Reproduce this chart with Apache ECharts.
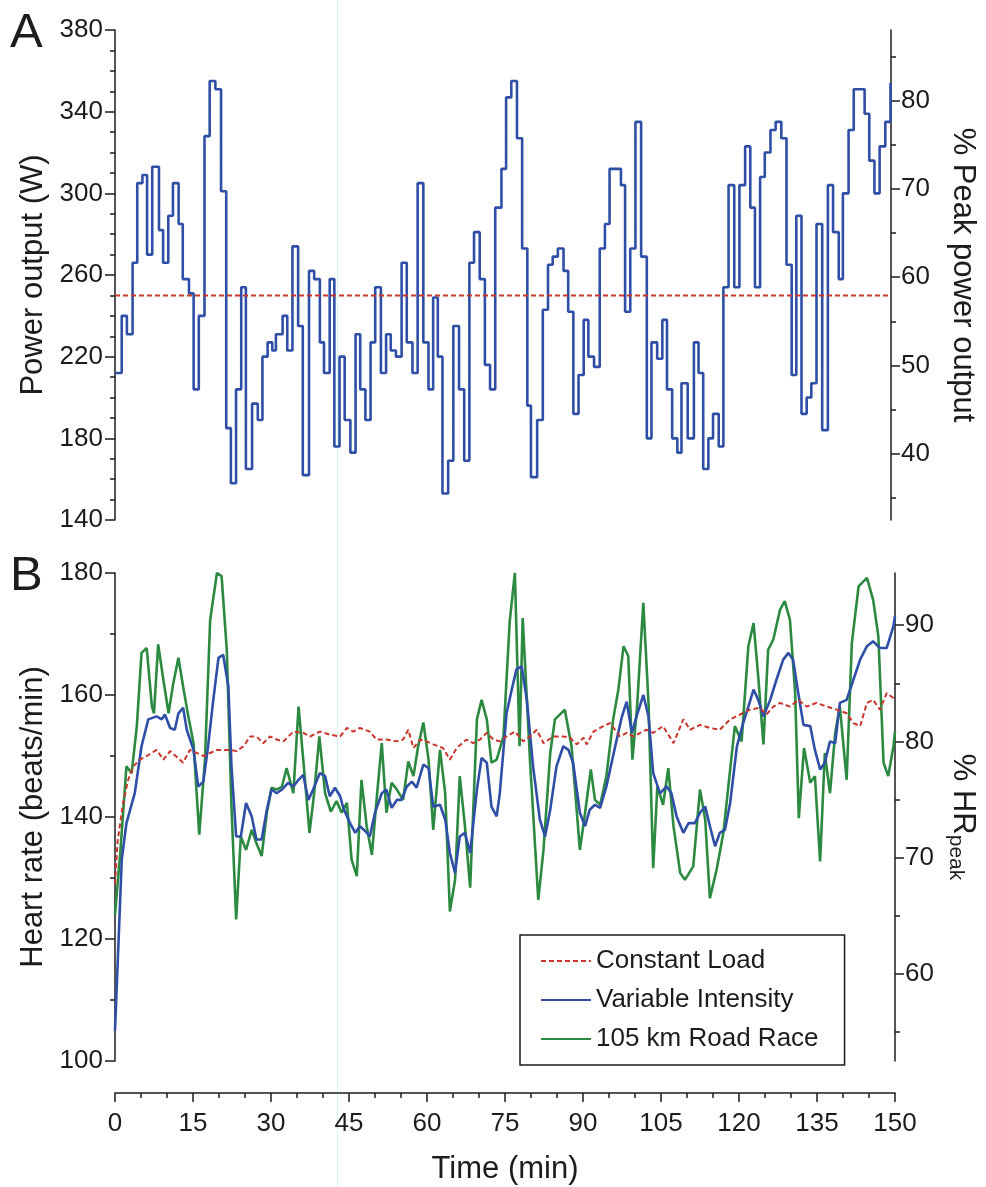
<!DOCTYPE html>
<html><head><meta charset="utf-8">
<script src="https://cdn.jsdelivr.net/npm/echarts@6/dist/echarts.min.js"></script>
<style>html,body{margin:0;padding:0;background:#fff}#c{width:986px;height:1187px}</style>
</head><body><div id="c"></div>
<script>
// ---------- Panel A: power output (step series) ----------
const powerTime = [0,1.3,2.3,3.4,4.3,5.3,6.2,7.2,8.5,9.3,10.3,11.2,12.3,13.1,14.3,15.2,16.2,17.3,18.3,19.4,20.5,21.5,22.4,23.4,24.4,25.3,26.5,27.6,28.5,29.5,30.4,31.1,32.4,33.3,34.3,35.4,36.3,37.5,38.5,39.6,40.4,41.5,42.4,43.4,44.4,45.5,46.5,47.4,48.4,49.4,50.3,51.4,52.4,53.3,54.3,55.4,56.4,57.5,58.5,59.6,60.6,61.5,62.4,63.3,64.4,65.4,66.5,67.5,68.5,69.4,70.5,71.5,72.5,73.5,74.7,75.6,76.6,77.7,78.7,79.7,80.4,81.6,82.7,83.7,84.6,85.6,86.7,87.6,88.6,89.6,90.6,91.5,92.6,93.7,94.7,95.6,97.8,98.6,99.6,100.6,101.7,102.8,103.7,104.8,105.8,106.7,107.7,108.7,109.5,110.7,111.9,112.8,113.7,114.7,115.6,116.7,117.6,118.6,119.7,120.7,121.8,122.8,123.7,124.7,125.6,126.7,127.7,128.8,129.8,130.8,131.7,132.7,133.7,134.6,135.6,136.7,137.8,138.8,139.9,140.7,141.8,142.8,144.9,145.8,146.8,147.8,148.9,149.9,150];
const powerWatts = [212,240,231,266,305,309,270,313,282,266,289,305,285,258,251,204,240,328,355,351,301,185,158,204,254,165,197,189,220,227,223,231,240,223,274,235,162,262,258,227,212,258,176,220,189,173,231,204,189,227,254,212,231,223,220,266,227,212,305,227,204,249,220,153,169,235,204,169,266,281,258,216,204,293,312,347,355,327,273,196,161,189,243,265,269,273,262,242,192,211,238,220,215,273,285,312,304,242,273,335,269,180,227,219,238,204,180,173,207,180,227,212,165,180,192,176,254,304,254,304,323,293,254,308,320,331,335,327,265,211,289,192,200,207,285,184,304,281,258,300,331,351,339,316,300,323,335,354,354];
const constantPowerTime = [0,150];
const constantPowerWatts = [250,250];
const peakPower = 431.5;   // W, 100 % of the right-hand axis in panel A

// ---------- Panel B: heart rate ----------
const clTime = [0,0.5,1.5,2.5,3.5,4.8,6.1,8,9.3,10.6,13.1,14.4,17,19.6,22.1,23.4,24.7,26,27.2,28.5,29.8,31.1,32.4,34.3,36.2,37.5,39.4,41.3,43.3,44.6,45.8,47.1,49,50.3,52.2,54.2,55.4,56.4,57.4,58.7,59.9,61.2,63.1,64.4,65.7,67.6,68.9,70.2,71.5,72.8,74,75.3,76.9,78.5,79.8,81.1,82.4,84.3,86.2,87.5,88.8,90.1,90.7,92,93.9,95.2,97.1,98.4,99.7,101,102.2,103.5,105.4,107.4,109.3,110.6,112.5,114.4,116.3,118.3,120.2,122.1,124,125.3,126.6,127.9,129.8,131.4,133,134.9,136.9,138.8,140.7,142,143.3,144.6,145.8,147.1,148.4,149.7,150];
const clHR = [129,136,142,146,148.3,149.4,150,151,149.4,150.8,148.9,151,150,151,151,150.8,151.6,153.2,153.2,152.1,153.2,152.7,152.4,154,153.8,153.2,154,153.5,153.2,154.6,154,154.6,154,152.7,152.7,152.4,152.7,154.3,151.3,152.7,152.4,151.9,151.3,149.4,151.3,152.7,152.1,152.7,153.8,152.7,152.4,153.2,154,152.4,153.2,154.3,152.1,153.2,153.2,153,151.9,153,151.9,154,154.9,155.4,153.2,153.8,153.2,153.8,154.3,153.8,154.9,152.1,156,154.3,155.1,154.6,154.3,156,156.8,157.6,157.9,156.8,158.1,158.7,158.1,159.2,158.1,158.7,158.1,157.6,157,155.4,154.9,158.7,159.2,157.6,160.3,159.5,159.5];

const viTime = [0,1.3,2.2,3.8,5.1,6.4,8,9,9.6,10.6,11.5,12.2,13.1,13.8,15.1,16,17,17.9,18.9,19.9,20.8,21.8,22.4,23.3,24.2,25.2,26.3,27.2,28.2,29.2,30.1,31.1,32.1,33.3,34.3,35.3,36.2,37.2,38.1,39.4,40.4,41.3,42.3,43.3,43.9,45.2,46.2,47.1,48.1,49,50,51.3,52.2,53.2,54.2,55.1,56.1,57.1,58,59.3,60.3,61.2,62.5,63.5,64.4,65.4,66.3,67.3,68.3,69.6,70.5,71.5,72.4,73.4,74,75.3,76.3,77.2,78.2,79.2,80.4,81.7,82.7,83.7,84.9,86.2,87.2,88.1,89.4,90.4,91.3,92.3,93.3,94.5,96.2,97.4,98.4,99.4,100.3,101.6,102.6,103.5,104.8,106.1,107,108,109.3,110.3,111.5,112.5,113.5,114.4,115.4,116.3,117.3,118.3,119.6,120.8,121.8,122.8,123.7,124.7,126,127.2,128.5,129.5,130.4,131.4,132.4,133.7,134.6,135.6,136.5,137.5,138.5,139.4,140.7,142,143.3,144.6,145.8,147.1,148.4,149.7,150];
const viHR = [105,133,139,143.9,151.6,156,156.5,156,156.8,154.6,154.3,157,157.9,154.3,151,145,145.8,151.6,159.2,166.1,166.6,161.4,148.3,136.8,136.8,142.3,140.1,136.3,136.3,141.2,144.5,143.9,144.5,145.6,145,146.1,146.9,142.8,144.5,147.2,146.7,143.4,144.8,143.4,141.5,139,137.4,138.5,137.7,136.8,140.7,143.9,144.5,141.5,142.8,142.8,145,145.8,144.8,148.6,148,141.7,142,139.6,134.1,130.8,136.8,137.4,134.1,144.5,149.7,148.9,141.7,140.1,143.9,157,160.9,164.2,164.7,159.2,148.3,139.6,136.8,141.2,148.3,151.6,151,148.9,140.7,138.5,141.2,142,141.5,145,151.6,156.2,158.9,153.8,156.5,160,156.5,147.2,143.9,145,143.9,140.1,137.4,139,139,140.7,141.7,138.5,135.2,137.4,137.9,142.3,151.6,155.4,158.1,160.9,159.2,156.5,159.2,162.5,165.8,166.9,165.8,160.3,155.1,154.9,151,147.8,148.9,152.4,152.1,158.7,159.2,162.5,165.8,168,168.8,167.7,167.7,171.3,173];

const rrTime = [0,1,2.2,3.2,4.2,5.1,6.1,7.1,7.5,8.3,9.3,10.3,11.2,12.2,13.1,14.1,15.1,16.2,17.3,18.3,19.6,20.5,21.5,22.4,23.3,24.2,25.2,26.3,27.2,28.2,29.2,30.1,31.1,32.1,33,34.3,35.3,36.2,37.4,38.3,39.3,40.4,41.5,42.6,43.6,44.6,45.5,46.5,47.4,48.4,49.4,50.3,51.3,52.2,53.2,54.2,55.4,56.4,57.4,58.3,59.3,60.3,61.2,62.5,63.5,64.4,65.4,66.3,67.3,68.3,69.6,70.5,71.5,72.4,73.4,74.7,75.9,76.9,77.8,78.4,79.8,81.4,82.4,83.7,84.6,86.5,87.8,89.4,90.4,91.5,92.3,93.3,94.5,95.8,96.8,97.8,98.7,99.5,100.4,101.6,102.6,103.5,104.3,105.4,106.4,107.4,108.7,109.6,111.2,112.5,113.5,114.4,115.7,117,118.3,119.2,120.5,121.8,122.8,123.7,124.7,125.6,126.6,127.9,128.8,129.8,130.8,131.5,132.5,133.7,134.6,135.6,136.5,137.5,138.5,139.4,140.7,141.7,143,144.6,145.8,146.8,147.8,148.7,149.7,150];
const rrHR = [124,134,148.3,147.2,154.9,166.9,167.7,158.1,157,168.3,162.5,157,161.9,166.1,161.4,156.5,152.1,137.1,149.4,172.3,180,179.5,167.4,141.7,123.2,136.8,134.6,137.9,135.7,133.6,140.7,144.8,144.5,145,148,143.9,158.1,149.4,137.4,143.9,153.2,143.9,140.9,142.6,140.7,142.3,133,130.3,146.1,138.5,133.8,142.8,152.1,140.7,145.6,144.5,142.8,149.1,146.7,151.6,155.5,149.4,137.9,151,143.9,124.5,129.7,146.7,138.5,128.4,156,159.2,156,148.9,149.4,153.2,172,180,151.6,172.6,149.4,126.4,134.6,150.5,156,157.6,151.6,134.6,140.7,147.8,142.8,142,146.7,156,160.9,168,166.4,149.4,158.1,175.1,158.7,131.6,145,142,148,138.5,130.8,129.7,131.9,144.5,139.6,126.7,131.4,137.4,147.8,154.9,152.4,168,171.8,163,151.9,167.4,169.1,174,175.4,172.3,160.3,139.8,151.3,145.6,146.7,132.7,150.5,143.9,153.8,158.1,146.1,168.5,177.8,179.2,175.6,169.6,148.9,146.7,151.6,154];
const peakHR = 190.5;      // beats/min, 100 % of the right-hand axis in panel B

// ---------- Axis ticks ----------
const pctPowerLabels = [40,50,60,70,80];
const pctPowerMinor = [35,45,55,65,75,85];
const pctHRLabels = [60,70,80,90];
const pctHRMinor = [55,65,75,85];
const seriesNames = ['Constant Load','Variable Intensity','105 km Road Race'];

const FONT = '"Liberation Sans", Arial, Helvetica, sans-serif';
const INK = '#1c1c1c';
const RED = '#c9362c';
const BLUE = '#2f4fa6';
const GREEN = '#2c8a40';
const zip = (xs, ys) => xs.map((x, i) => [x, ys[i]]);

const axisLine = {show: true, lineStyle: {color: INK, width: 1.5}};
const tickStyle = {color: INK, width: 1.5};
const TICK_FS = 26, TITLE_FS = 31;

function leftAxis(grid, min, max, interval, name, gap) {
  return {
    type: 'value', gridIndex: grid, position: 'left', min, max, interval,
    axisLine, splitLine: {show: false},
    axisTick: {show: true, length: 10, lineStyle: tickStyle},
    minorTick: {show: true, splitNumber: interval === 40 ? 4 : 2, length: 5, lineStyle: tickStyle},
    axisLabel: {fontSize: TICK_FS, color: INK, margin: 12, fontFamily: FONT},
    name, nameLocation: 'middle', nameGap: gap, nameRotate: 90,
    nameTextStyle: {fontSize: TITLE_FS, color: INK, fontFamily: FONT}
  };
}
function rightAxis(grid, min, max, labels, name, gap, rich) {
  return {
    type: 'value', gridIndex: grid, position: 'right', min, max,
    axisLine, splitLine: {show: false},
    axisTick: {show: true, length: 9, lineStyle: tickStyle, customValues: labels},
    axisLabel: {fontSize: TICK_FS, color: INK, margin: 10, fontFamily: FONT, customValues: labels},
    name, nameLocation: 'middle', nameGap: gap, nameRotate: -90,
    nameTextStyle: Object.assign({fontSize: TITLE_FS, color: INK, fontFamily: FONT}, rich ? {rich} : {})
  };
}
function minorRight(grid, min, max, vals) {
  return {
    type: 'value', gridIndex: grid, position: 'right', min, max,
    axisLine: {show: false}, splitLine: {show: false},
    axisTick: {show: true, length: 5, lineStyle: tickStyle, customValues: vals},
    axisLabel: {show: false}
  };
}

const pMin = 140 / peakPower * 100, pMax = 380 / peakPower * 100;
const hMin = 100 / peakHR * 100, hMax = 180 / peakHR * 100;

const option = {
  animation: false,
  backgroundColor: '#ffffff',
  textStyle: {fontFamily: FONT},
  grid: [
    {left: 115, right: 89, top: 30, height: 490},
    {left: 115, right: 89, top: 573, height: 488}
  ],
  xAxis: [
    {type: 'value', gridIndex: 0, min: 0, max: 150, show: false},
    {type: 'value', gridIndex: 1, min: 0, max: 150, interval: 15, position: 'bottom', offset: 32,
     axisLine, splitLine: {show: false},
     axisTick: {show: true, length: 9, lineStyle: tickStyle},
     minorTick: {show: true, splitNumber: 3, length: 5, lineStyle: tickStyle},
     axisLabel: {fontSize: TICK_FS, color: INK, margin: 18, fontFamily: FONT},
     name: 'Time (min)', nameLocation: 'middle', nameGap: 61,
     nameTextStyle: {fontSize: TITLE_FS, color: INK, fontFamily: FONT}}
  ],
  yAxis: [
    leftAxis(0, 140, 380, 40, 'Power output (W)', 62),
    rightAxis(0, pMin, pMax, pctPowerLabels, '% Peak power output', 56),
    minorRight(0, pMin, pMax, pctPowerMinor),
    leftAxis(1, 100, 180, 20, 'Heart rate (beats/min)', 62),
    rightAxis(1, hMin, hMax, pctHRLabels, '% HR{sub|peak}', 50,
      {sub: {fontSize: 21, color: INK, fontFamily: FONT, verticalAlign: 'bottom', padding: [14, 0, 0, 0]}}),
    minorRight(1, hMin, hMax, pctHRMinor)
  ],
  legend: {
    left: 520, top: 935, orient: 'vertical', data: seriesNames,
    itemWidth: 50, itemHeight: 14, itemGap: 13, padding: [13, 26, 13, 20],
    borderColor: INK, borderWidth: 1.5, backgroundColor: '#fff',
    itemStyle: {opacity: 0},
    textStyle: {fontSize: 26, color: INK, fontFamily: FONT, lineHeight: 26}
  },
  graphic: [
    {type: 'rect', z: -1, shape: {x: 337, y: 0, width: 1, height: 1187}, style: {fill: '#d4f4ee'}},
    {type: 'text', left: 10, top: 9, style: {text: 'A', fontSize: 49, fill: INK, fontFamily: FONT}},
    {type: 'text', left: 10, top: 552, style: {text: 'B', fontSize: 49, fill: INK, fontFamily: FONT}}
  ],
  series: [
    {type: 'line', name: 'Constant power', xAxisIndex: 0, yAxisIndex: 0, symbol: 'none',
     data: zip(constantPowerTime, constantPowerWatts), lineStyle: {color: RED, width: 2, type: [5, 3]}, z: 3},
    {type: 'line', name: 'Variable power', xAxisIndex: 0, yAxisIndex: 0, symbol: 'none', step: 'end',
     data: zip(powerTime, powerWatts), lineStyle: {color: BLUE, width: 2.6}, itemStyle: {color: BLUE}, z: 2},
    {type: 'line', name: seriesNames[2], xAxisIndex: 1, yAxisIndex: 3, symbol: 'none',
     data: zip(rrTime, rrHR), lineStyle: {color: GREEN, width: 2.6}, itemStyle: {color: GREEN}, z: 2},
    {type: 'line', name: seriesNames[1], xAxisIndex: 1, yAxisIndex: 3, symbol: 'none',
     data: zip(viTime, viHR), lineStyle: {color: BLUE, width: 2.6}, itemStyle: {color: BLUE}, z: 3},
    {type: 'line', name: seriesNames[0], xAxisIndex: 1, yAxisIndex: 3, symbol: 'none',
     data: zip(clTime, clHR), lineStyle: {color: RED, width: 2, type: [5, 3]}, itemStyle: {color: RED}, z: 4}
  ]
};
const chart = echarts.init(document.getElementById('c'));
chart.setOption(option);
</script></body></html>
